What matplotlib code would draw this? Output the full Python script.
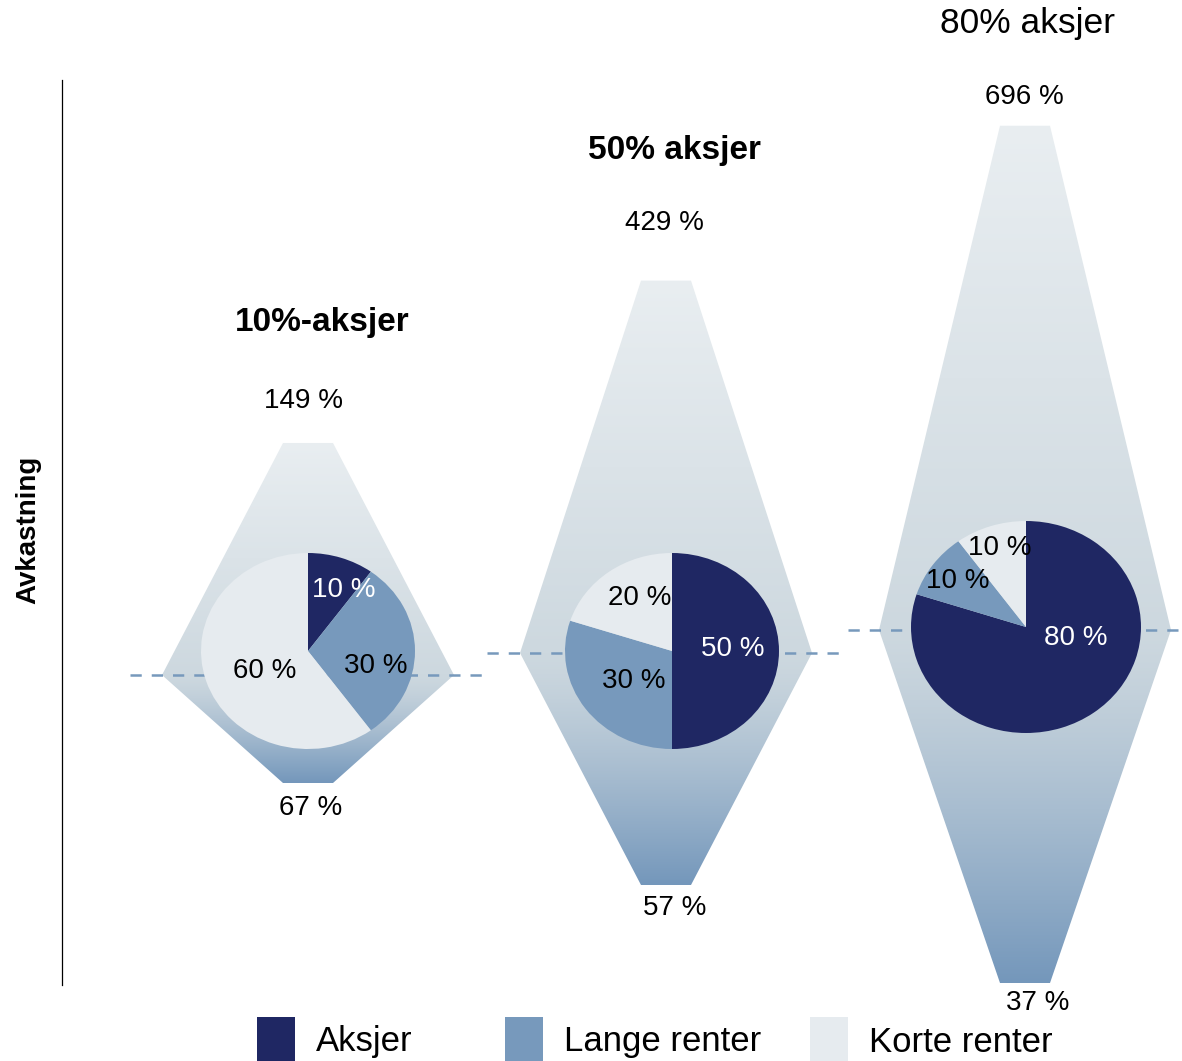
import numpy as np
import matplotlib.pyplot as plt
from matplotlib.patches import Polygon, Rectangle

plt.rcParams['font.family'] = ['Liberation Sans', 'DejaVu Sans']

W, H = 1182, 1061

# --- data ---
titles = ['10%-aksjer', '50% aksjer', '80% aksjer']
title_bold = [True, True, False]
best_returns = [149, 429, 696]    # øvre utfall, %
worst_returns = [67, 57, 37]      # nedre utfall, %
asset_classes = ['Aksjer', 'Lange renter', 'Korte renter']
weights = [
    [10, 30, 60],
    [50, 30, 20],
    [80, 10, 10],
]

pie_colors = ['#1f2763', '#7799bc', '#e6ebef']
label_colors = ['white', 'black', 'black']

# --- layout (pixel space) ---
shape_cx = [308, 666, 1025]
mid_y = [675, 653, 630]
bottom_y = [783, 885, 983]
half_w_mid = 146
half_w_end = 25
pie_center = [(308, 651), (672, 651), (1026, 627)]
pie_radius = [(107, 98), (107, 98), (115, 106)]
pie_label_xy = [
    [(344, 590), (376, 666), (265, 671)],
    [(733, 649), (634, 681), (640, 598)],
    [(1076, 638), (958, 581), (1000, 548)],
]
top_label_xy = [(304, 401), (664, 223), (1024, 97)]
bottom_label_xy = [(311, 808), (675, 908), (1038, 1003)]
title_xy = [(322, 323), (675, 151), (1028, 23)]
title_size = [24, 24, 25.5]
dash_x = [(130, 490), (487, 848), (848, 1182)]


def return_to_y(v):
    # øvre kant følger en lineær skala i avkastning
    return 529.4 - 0.58 * v


top_rgb = np.array([233, 238, 241]) / 255
mid_rgb = np.array([205, 216, 223]) / 255
bot_rgb = np.array([116, 151, 187]) / 255


def gradient(y_top, y_mid, y_bot, n=400):
    ys = np.linspace(y_top, y_bot, n)
    img = np.zeros((n, 1, 3))
    for k, y in enumerate(ys):
        if y <= y_mid:
            t = (y - y_top) / (y_mid - y_top)
            img[k, 0] = top_rgb + (mid_rgb - top_rgb) * t
        else:
            t = ((y - y_mid) / (y_bot - y_mid)) ** 1.3
            img[k, 0] = mid_rgb + (bot_rgb - mid_rgb) * t
    return img


fig = plt.figure(figsize=(W / 100, H / 100), dpi=100)
ax = fig.add_axes([0, 0, 1, 1])

for i in range(3):
    cx = shape_cx[i]
    yt = return_to_y(best_returns[i])
    ym, yb = mid_y[i], bottom_y[i]
    verts = [(cx - half_w_end, yt), (cx + half_w_end, yt), (cx + half_w_mid, ym),
             (cx + half_w_end, yb), (cx - half_w_end, yb), (cx - half_w_mid, ym)]
    poly = Polygon(verts, closed=True, facecolor='none', edgecolor='none')
    ax.add_patch(poly)
    im = ax.imshow(gradient(yt, ym, yb), extent=(cx - half_w_mid, cx + half_w_mid, yb, yt),
                   aspect='auto', interpolation='bilinear', zorder=1)
    im.set_clip_path(poly)

    x0, x1 = dash_x[i]
    ax.plot([x0, x1], [ym, ym], color='#7799bc', lw=1.8, dashes=(4.5, 4), zorder=2)

    tx, ty = top_label_xy[i]
    ax.text(tx, ty, f'{best_returns[i]} %', ha='center', va='center', fontsize=20)
    bx, by = bottom_label_xy[i]
    ax.text(bx, by, f'{worst_returns[i]} %', ha='center', va='center', fontsize=20)
    hx, hy = title_xy[i]
    ax.text(hx, hy, titles[i], ha='center', va='center', fontsize=title_size[i],
            fontweight='bold' if title_bold[i] else 'normal')

# venstre akse
ax.plot([62, 62], [80, 985], color='black', lw=0.9)
ax.text(28, 530, 'Avkastning', rotation=90, ha='center', va='center',
        fontsize=20, fontweight='bold')

# forklaring
legend_x = [257, 505, 810]
for name, col, lx in zip(asset_classes, pie_colors, legend_x):
    ax.add_patch(Rectangle((lx, 1017), 38, 44, facecolor=col, edgecolor='none'))
    ax.text(lx + 59, 1042, name, ha='left', va='center', fontsize=25)

ax.set_xlim(0, W)
ax.set_ylim(H, 0)
ax.axis('off')

# kakediagrammer
for i in range(3):
    cx, cy = pie_center[i]
    rx, ry = pie_radius[i]
    pax = fig.add_axes([(cx - rx) / W, 1 - (cy + ry) / H, 2 * rx / W, 2 * ry / H])
    pax.pie(weights[i], colors=pie_colors, startangle=90, counterclock=False,
            radius=1, wedgeprops=dict(linewidth=0))
    pax.set_aspect('auto')
    pax.set_xlim(-1, 1)
    pax.set_ylim(-1, 1)
    for w, (lx, ly), tc in zip(weights[i], pie_label_xy[i], label_colors):
        pax.text((lx - cx) / rx, (cy - ly) / ry, f'{w} %', ha='center', va='center',
                 fontsize=20, color=tc)

fig.savefig('out.png', dpi=100)
